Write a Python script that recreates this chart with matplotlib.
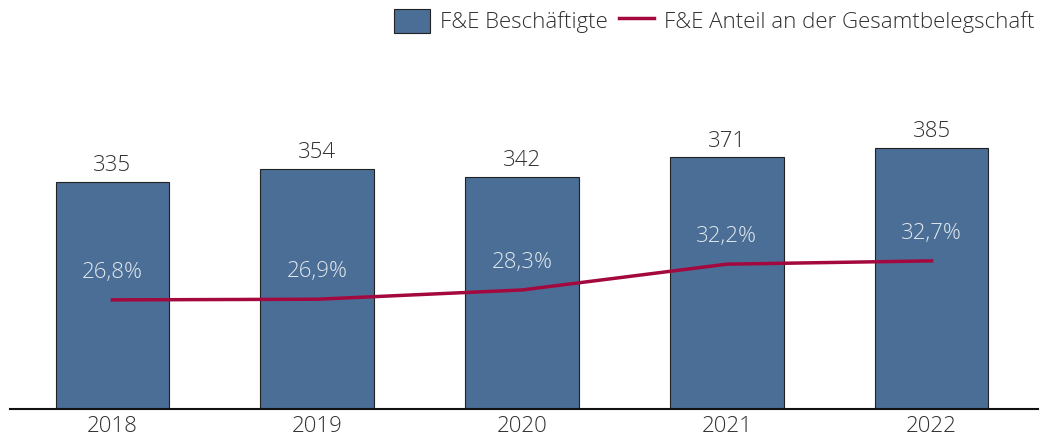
import matplotlib
matplotlib.use("Agg")
import matplotlib.pyplot as plt
from matplotlib.patches import Patch
from matplotlib.lines import Line2D

years = ["2018", "2019", "2020", "2021", "2022"]
employees = [335, 354, 342, 371, 385]
share = [26.8, 26.9, 28.3, 32.2, 32.7]
share_labels = ["26,8%", "26,9%", "28,3%", "32,2%", "32,7%"]

plt.rcParams['font.family'] = ['Open Sans', 'DejaVu Sans']

W, H = 1043, 448
fig = plt.figure(figsize=(W/100, H/100), dpi=100)
ax = fig.add_axes([10/W, (H-409)/H, (1038-10)/W, (409-40)/H])
x = list(range(len(years)))
bar_color = "#4a6e95"
line_color = "#a3093f"
text_color = "#303030"
fw = "light"
fs = 16

ax.bar(x, employees, width=0.555, color=bar_color, edgecolor="#222222", linewidth=0.8, zorder=2)
ax.set_xlim(-0.5, 4.52)
ax.set_ylim(0, 544)
for xi, v in zip(x, employees):
    ax.annotate(str(v), (xi, v), xytext=(0, 4), textcoords="offset points",
                ha="center", va="bottom", fontsize=fs, color=text_color, fontweight=fw)
ax.set_xticks(x)
ax.set_xticklabels(years, fontsize=fs, color=text_color, fontweight=fw)
ax.tick_params(axis="x", length=0, pad=5)
ax.set_yticks([])
for s in ["top", "right", "left"]:
    ax.spines[s].set_visible(False)
ax.spines["bottom"].set_linewidth(1.5)
ax.spines["bottom"].set_color("#111111")

ax2 = ax.twinx()
ax2.set_ylim(10.3, 66.1)
ax2.plot(x, share, color=line_color, linewidth=2.5, zorder=3)
for xi, v, lab in zip(x, share, share_labels):
    ax2.annotate(lab, (xi, v), xytext=(0, 20), textcoords="offset points",
                 ha="center", va="center", fontsize=fs, color="#e2e7ee", fontweight=fw)
ax2.set_yticks([])
for s in ["top", "right", "left", "bottom"]:
    ax2.spines[s].set_visible(False)

handles = [Patch(facecolor=bar_color, edgecolor="#222222", linewidth=0.8),
           Line2D([0], [0], color=line_color, linewidth=2.5)]
fig.legend(handles, ["F&E Beschäftigte", "F&E Anteil an der Gesamtbelegschaft"],
           loc="upper right", bbox_to_anchor=(1047/W, 1.008), ncol=2, frameon=False,
           prop={"size": fs, "weight": fw}, labelcolor=text_color,
           handlelength=1.6, handleheight=1.3,
           columnspacing=0.5, handletextpad=0.45, borderaxespad=0.15)

fig.savefig("out.png", dpi=100)
